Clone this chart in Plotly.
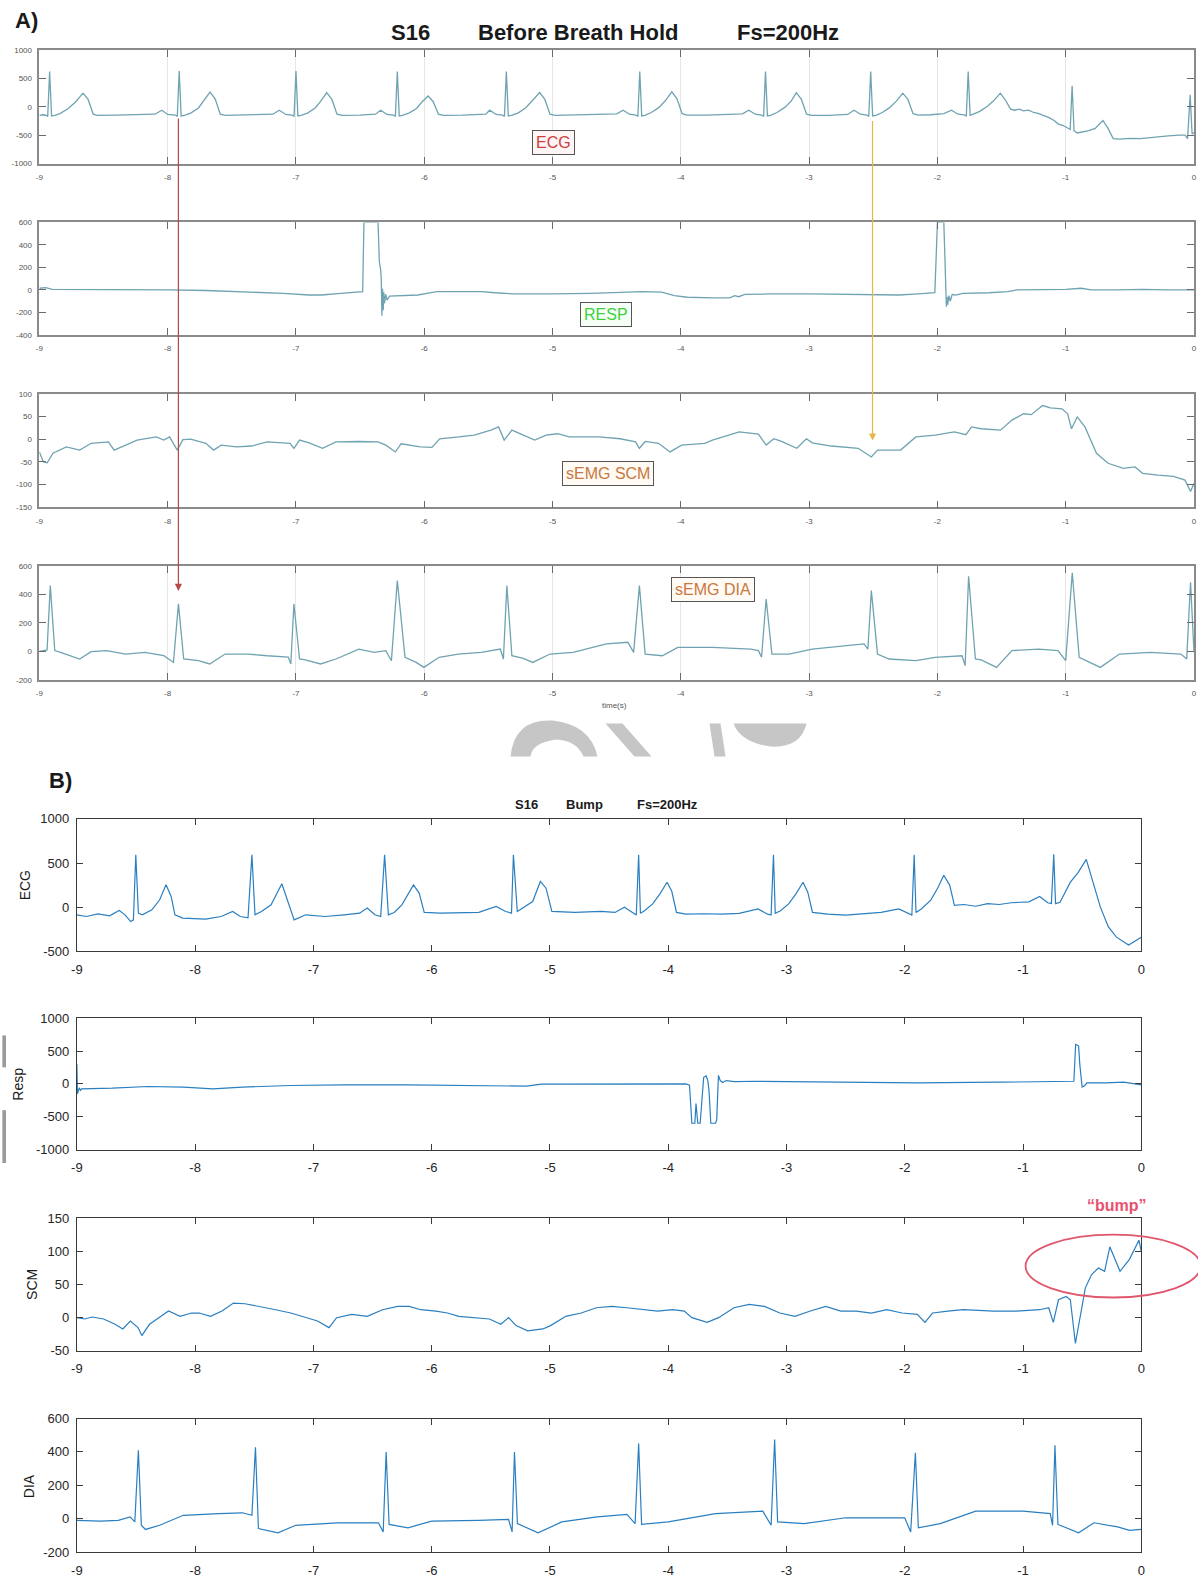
import plotly.graph_objects as go

W, H = 1198, 1578
FONT = "Liberation Sans, Arial, sans-serif"

# ---------------- data ----------------
x_ticks = [-9, -8, -7, -6, -5, -4, -3, -2, -1, 0]
x_tick_text = ["-9", "-8", "-7", "-6", "-5", "-4", "-3", "-2", "-1", "0"]

# Panel A — ECG
ecgA_t = [-9.00, -8.97, -8.945, -8.935, -8.92, -8.905, -8.88, -8.84, -8.78, -8.72, -8.66, -8.62, -8.58, -8.55, -8.40, -8.20, -8.10, -8.045, -8.00,
          -7.94, -7.925, -7.91, -7.895, -7.87, -7.82, -7.76, -7.72, -7.67, -7.63, -7.59, -7.55, -7.40, -7.25, -7.18, -7.13, -7.08,
          -7.03, -7.015, -7.00, -6.985, -6.96, -6.91, -6.85, -6.81, -6.76, -6.72, -6.68, -6.64, -6.50, -6.40, -6.38, -6.34, -6.29,
          -6.24, -6.225, -6.21, -6.195, -6.17, -6.12, -6.06, -6.02, -5.97, -5.93, -5.89, -5.85, -5.70, -5.55, -5.52, -5.49, -5.44,
          -5.39, -5.375, -5.36, -5.345, -5.32, -5.27, -5.21, -5.16, -5.10, -5.06, -5.02, -4.98, -4.80, -4.60, -4.50, -4.45, -4.40,
          -4.35, -4.335, -4.32, -4.305, -4.28, -4.23, -4.17, -4.12, -4.07, -4.03, -3.99, -3.95, -3.80, -3.60, -3.52, -3.47, -3.42,
          -3.37, -3.355, -3.34, -3.325, -3.30, -3.25, -3.19, -3.14, -3.10, -3.06, -3.02, -2.98, -2.85, -2.70, -2.65, -2.60,
          -2.55, -2.535, -2.52, -2.505, -2.48, -2.43, -2.37, -2.32, -2.27, -2.23, -2.19, -2.15, -2.05, -1.95, -1.89, -1.84,
          -1.79, -1.775, -1.76, -1.745, -1.72, -1.67, -1.61, -1.56, -1.51, -1.47, -1.43, -1.40, -1.36, -1.33, -1.29, -1.25, -1.21,
          -1.17, -1.13, -1.09, -1.06, -1.02, -0.985, -0.965, -0.95, -0.935, -0.91, -0.87, -0.82, -0.77, -0.71, -0.67, -0.63, -0.58,
          -0.50, -0.42, -0.35, -0.27, -0.20, -0.12, -0.07, -0.05, -0.03, -0.015, 0.0]
ecgA_v = [-150, -140, -150, -170, 620, -160, -150, -120, -40, 80, 240, 130, -130, -150, -145, -140, -130, -60, -135,
          -145, -170, 630, -160, -150, -110, -20, 100, 260, 140, -130, -150, -145, -140, -130, -60, -135,
          -145, -170, 630, -160, -150, -110, -20, 90, 250, 130, -130, -150, -145, -140, -130, -60, -135,
          -145, -170, 620, -160, -150, -110, -30, 80, 190, 90, -130, -150, -145, -140, -130, -60, -135,
          -145, -170, 620, -160, -150, -110, -20, 100, 250, 130, -130, -150, -145, -140, -125, -60, -130,
          -145, -170, 620, -160, -150, -100, -10, 110, 265, 140, -120, -145, -145, -140, -125, -60, -130,
          -145, -170, 620, -160, -150, -100, -10, 100, 250, 130, -130, -150, -150, -135, -60, -130,
          -145, -170, 620, -160, -150, -100, -10, 100, 240, 130, -120, -145, -140, -120, -60, -130,
          -140, -165, 620, -150, -130, -80, 10, 110, 240, 120, -40, -60, -40, -70, -60, -100, -120,
          -150, -190, -240, -300, -330, -380, -400, 370, -420, -460, -440, -420, -380, -240, -380, -560, -570,
          -555, -560, -540, -530, -510, -500, -500, -560, 210, -480, -450]

# Panel A — RESP
respA_t = [-9.0, -8.95, -8.9, -8.7, -8.5, -8.2, -8.0, -7.7, -7.4, -7.1, -6.9, -6.8, -6.65, -6.50, -6.48, -6.47, -6.36, -6.35, -6.34,
           -6.335, -6.33, -6.325, -6.32, -6.315, -6.31, -6.30, -6.29, -6.27, -6.20, -6.05, -5.98, -5.90, -5.70, -5.55, -5.45,
           -5.30, -5.0, -4.7, -4.3, -4.15, -4.05, -3.95, -3.75, -3.62, -3.58, -3.55, -3.50, -3.30, -3.0, -2.7, -2.5, -2.3, -2.15,
           -2.02, -2.0, -1.95, -1.93, -1.925, -1.92, -1.91, -1.90, -1.885, -1.86, -1.80, -1.6, -1.45, -1.38, -1.2, -1.0, -0.88,
           -0.80, -0.6, -0.4, -0.2, 0.0]
respA_v = [15, 20, 5, 5, 0, 5, 0, -5, -15, -30, -45, -45, -30, -20, -15, 600, 600, 250, 180,
           100, -230, 10, -180, -20, -120, -40, -90, -55, -50, -45, -30, -15, -15, -15, -25,
           -35, -35, -30, -15, -20, -50, -65, -70, -70, -50, -60, -40, -35, -35, -40, -40, -45, -35,
           -25, 600, 600, -150, -60, -130, -50, -100, -40, -45, -30, -25, -15, 0, 0, 5, 15,
           0, 0, 5, 0, 0]

# Panel A — sEMG SCM
scmA_t = [-9.0, -8.969, -8.939, -8.894, -8.79, -8.686, -8.596, -8.462, -8.417, -8.238, -8.089, -8.03, -7.985, -7.925, -7.881,
          -7.821, -7.702, -7.642, -7.583, -7.463, -7.344, -7.225, -7.046, -7.016, -6.972, -6.897, -6.793, -6.688, -6.51, -6.36,
          -6.30, -6.225, -6.18, -6.03, -5.94, -5.88, -5.73, -5.61, -5.526, -5.48, -5.42, -5.377, -5.317, -5.228, -5.139, -5.05,
          -4.96, -4.87, -4.64, -4.473, -4.353, -4.323, -4.278, -4.174, -4.084, -3.994, -3.814, -3.754, -3.665, -3.545, -3.395,
          -3.335, -3.275, -3.216, -3.096, -3.021, -2.976, -2.826, -2.617, -2.515, -2.467, -2.287, -2.168, -2.018, -1.868, -1.778,
          -1.734, -1.659, -1.509, -1.419, -1.329, -1.269, -1.18, -1.12, -1.03, -0.985, -0.955, -0.91, -0.85, -0.76, -0.67, -0.55,
          -0.46, -0.40, -0.28, -0.16, -0.07, -0.027, 0.0]
scmA_v = [-28, -50, -52, -31, -17, -24, -9, -6, -24, -2, 5, -2, 5, -24, -1,
          0, -9, -24, -13, -17, -15, -6, -9, -20, -2, -8, -20, -6, -5, -6,
          -13, -28, -10, -17, -18, 1, 5, 9, 16, 20, 27, -2, 20, 9, -2, 9,
          12, 5, 5, 1, -6, -20, -5, -9, -28, -13, -9, -2, 5, 16, 11,
          -13, 1, -5, -20, 1, -8, -15, -20, -39, -24, -24, 5, 9, 16, 10,
          27, 23, 20, 42, 56, 54, 74, 69, 67, 56, 23, 49, 27, -31, -53, -64,
          -61, -75, -79, -82, -90, -115, -97]

# Panel A — sEMG DIA
diaA_t = [-9.0, -8.94, -8.915, -8.88, -8.835, -8.686, -8.596, -8.477, -8.327, -8.178, -8.03, -7.955, -7.916, -7.875, -7.76,
          -7.672, -7.553, -7.374, -7.225, -7.06, -7.04, -7.016, -6.972, -6.927, -6.808, -6.688, -6.51, -6.39, -6.30, -6.256,
          -6.21, -6.15, -6.063, -6.003, -5.884, -5.735, -5.556, -5.407, -5.383, -5.356, -5.317, -5.228, -5.154, -5.02, -4.84,
          -4.69, -4.58, -4.413, -4.368, -4.323, -4.278, -4.144, -4.024, -3.754, -3.455, -3.395, -3.371, -3.335, -3.29, -3.156,
          -2.976, -2.707, -2.572, -2.542, -2.515, -2.467, -2.377, -2.168, -2.018, -1.808, -1.784, -1.757, -1.704, -1.659, -1.539,
          -1.419, -1.21, -1.06, -1.0, -0.949, -0.895, -0.73, -0.581, -0.341, -0.102, -0.057, -0.027, 0.0]
diaA_v = [0, 10, 463, 5, -7, -54, -2, 5, -19, -7, -31, -78, 334, -54, -66,
          -89, -19, -19, -31, -40, -89, 334, -54, -60, -89, -54, 16, -7, 5, -66,
          499, -42, -78, -113, -42, -19, -7, 16, -54, 463, -31, -49, -78, -19, -7,
          28, 52, 64, -7, 463, -19, -31, 28, 28, 16, 5, -42, 369, -19, -19,
          16, 40, 52, 16, 428, -19, -54, -66, -42, -31, -101, 529, -54, -60, -113,
          5, 16, 5, -66, 553, -42, -113, -19, -7, -19, -54, 487, -7]

# Panel B — ECG
ecgB_t = [-9.0, -8.919, -8.821, -8.724, -8.642, -8.593, -8.545, -8.522, -8.502, -8.48, -8.447, -8.366, -8.30, -8.246, -8.203,
          -8.171, -8.106, -7.911, -7.78, -7.683, -7.618, -7.553, -7.52, -7.494, -7.439, -7.358, -7.267, -7.211, -7.163, -7.065,
          -6.902, -6.74, -6.61, -6.545, -6.48, -6.431, -6.398, -6.366, -6.317, -6.252, -6.154, -6.106, -6.063, -5.927, -5.764,
          -5.602, -5.455, -5.374, -5.325, -5.309, -5.276, -5.211, -5.146, -5.081, -5.033, -4.984, -4.789, -4.567,
          -4.45, -4.37, -4.30, -4.27, -4.25, -4.235, -4.20, -4.13, -4.07, -4.01, -3.97, -3.93, -3.85, -3.70, -3.55, -3.40,
          -3.24, -3.16, -3.13, -3.11, -3.095, -3.05, -2.98, -2.92, -2.86, -2.82, -2.78, -2.65, -2.50, -2.35, -2.20, -2.05,
          -1.97, -1.94, -1.92, -1.905, -1.86, -1.78, -1.72, -1.67, -1.62, -1.58, -1.50, -1.40, -1.30, -1.20, -1.10, -0.95,
          -0.86, -0.79, -0.76, -0.74, -0.725, -0.687, -0.601, -0.533, -0.465, -0.405, -0.346, -0.278, -0.21, -0.107, -0.039, 0.0]
ecgB_v = [-87, -106, -76, -98, -38, -87, -163, -144, 594, -68, -87, -30, 83, 253, 121,
          -87, -125, -136, -106, -49, -106, -120, 594, -87, -49, 26, 265, 45, -144, -87,
          -106, -87, -68, -11, -87, -106, 594, -87, -60, 26, 253, 159, -60, -68, -68,
          -60, 8, -49, -68, 594, -49, 8, 64, 291, 215, -49, -60, -49,
          -60, 0, -70, -90, 594, -70, -40, 40, 150, 282, 180, -60, -80, -75, -80, -70,
          -20, -80, -90, 594, -70, -40, 40, 150, 282, 170, -60, -80, -90, -75, -60, -20,
          -70, -90, 594, -60, -20, 80, 220, 361, 250, 20, 30, 10, 40, 30, 50, 60,
          120, 50, 40, 598, 40, 55, 280, 395, 541, 282, 0, -225, -340, -430, -370, -340]

# Panel B — Resp
respB_t = [-9.0, -8.995, -8.98, -8.97, -8.96, -8.7, -8.4, -8.1, -7.85, -7.6, -7.2, -6.75, -6.2, -5.6, -5.2, -5.07, -4.5, -3.85,
           -3.82, -3.80, -3.775, -3.765, -3.75, -3.73, -3.70, -3.68, -3.665, -3.655, -3.64, -3.60, -3.59, -3.575, -3.56, -3.54,
           -3.51, -3.44, -3.25, -2.5, -1.89, -1.2, -0.62, -0.57, -0.555, -0.53, -0.52, -0.50, -0.48, -0.46, -0.3, -0.15, 0.0]
respB_v = [300, -150, -60, -100, -76, -66, -40, -50, -76, -50, -25, -15, -15, -30, -35, -5, 0, 0,
           -20, -600, -600, -300, -600, -600, 100, 120, 50, -100, -600, -600, -550, 130, 50, 20,
           50, 35, 40, 30, 15, 25, 35, 40, 600, 580, 300, -50, -30, 15, 15, 25, -15]

# Panel B — SCM
scmB_t = [-9.0, -8.935, -8.871, -8.774, -8.677, -8.612, -8.548, -8.483, -8.451, -8.386, -8.289, -8.225, -8.128, -8.031, -7.966,
          -7.87, -7.773, -7.676, -7.579, -7.45, -7.32, -7.191, -7.062, -6.965, -6.868, -6.804, -6.674, -6.545, -6.416, -6.287,
          -6.19, -6.093, -5.964, -5.867, -5.77, -5.641, -5.512, -5.415, -5.35, -5.286, -5.189, -5.06, -4.995, -4.866, -4.736,
          -4.607, -4.478, -4.349, -4.22, -4.09, -3.961, -3.864, -3.80, -3.671, -3.574, -3.444, -3.315, -3.186, -3.057, -2.928,
          -2.798, -2.669, -2.54, -2.411, -2.282, -2.152, -2.023, -1.894, -1.829, -1.765, -1.636, -1.506, -1.248, -1.054, -0.86,
          -0.783, -0.744, -0.70, -0.635, -0.60, -0.557, -0.51, -0.473, -0.42, -0.363, -0.31, -0.266, -0.18, -0.10, -0.02, 0.0]
scmB_v = [0, -2, 1, -2, -10, -17, -5, -15, -27, -10, 2, 10, 2, 7, 7,
          2, 10, 22, 21, 17, 12, 7, 0, -5, -15, 0, 5, 2, 12, 17,
          17, 12, 10, 7, 2, 0, -2, -10, 0, -12, -20, -17, -12, 2, 7,
          15, 17, 15, 12, 10, 12, 10, 0, -7, 0, 15, 20, 17, 7, 2,
          10, 17, 10, 10, 7, 12, 7, 5, -7, 7, 10, 12, 10, 10, 12,
          15, -7, 27, 32, 27, -39, 5, 45, 65, 75, 70, 107, 70, 88, 117, 100]

# Panel B — DIA
diaB_t = [-9.0, -8.8, -8.65, -8.55, -8.51, -8.48, -8.455, -8.42, -8.30, -8.10, -7.80, -7.60, -7.52, -7.49, -7.465, -7.40, -7.30,
          -7.15, -6.80, -6.45, -6.41, -6.385, -6.36, -6.20, -6.00, -5.60, -5.35, -5.32, -5.30, -5.275, -5.10, -4.90, -4.60,
          -4.35, -4.28, -4.25, -4.225, -4.0, -3.60, -3.20, -3.13, -3.10, -3.075, -2.85, -2.50, -2.00, -1.95, -1.91, -1.885,
          -1.70, -1.40, -1.00, -0.77, -0.75, -0.73, -0.705, -0.53, -0.40, -0.20, -0.10, 0.0]
diaB_v = [-10, -15, -10, 10, -20, 410, -40, -65, -40, 20, 30, 35, 20, 428, -60, -70, -85,
          -40, -25, -25, -80, 400, -35, -55, -15, -10, -5, -80, 400, -30, -85, -20, 10,
          25, -30, 450, -35, -20, 30, 45, -40, 475, -20, -30, 5, 5, -80, 395, -55,
          -30, 45, 45, 30, -40, 440, -35, -85, -25, -50, -70, -65]

panels = [
    # group, t, v, y range, y ticks, (left, right, top, bottom) in px, grid
    ("A", ecgA_t, ecgA_v, [-1000, 1000], [-1000, -500, 0, 500, 1000], (39, 1194, 51, 165), True),
    ("A", respA_t, respA_v, [-400, 600], [-400, -200, 0, 200, 400, 600], (39, 1194, 224, 337), False),
    ("A", scmA_t, scmA_v, [-150, 100], [-150, -100, -50, 0, 50, 100], (39, 1194, 396, 510), False),
    ("A", diaA_t, diaA_v, [-200, 600], [-200, 0, 200, 400, 600], (39, 1194, 569, 683), True),
    ("B", ecgB_t, ecgB_v, [-500, 1000], [-500, 0, 500, 1000], (76.5, 1140.7, 822.7, 955.5), False),
    ("B", respB_t, respB_v, [-1000, 1000], [-1000, -500, 0, 500, 1000], (76.5, 1140.7, 1022.7, 1154.5), False),
    ("B", scmB_t, scmB_v, [-50, 150], [-50, 0, 50, 100, 150], (76.5, 1140.7, 1223.5, 1356.5), False),
    ("B", diaB_t, diaB_v, [-200, 600], [-200, 0, 200, 400, 600], (76.5, 1140.7, 1424.5, 1558.4), False),
]

# the photographed page comes out slightly shrunk about its centre; place items so they land on target
KX, CX = 0.99147, 5.63
KY, CY = 0.99104, 6.86


def px(x):
    return ((x - CX) / KX) / W


def py(y):
    y = 1.004 * y - 1.0
    return 1 - ((y - CY) / KY) / H


def clamp(v):
    return min(1.0, max(0.0, v))


fig = go.Figure()
layout = dict(width=W, height=H, margin=dict(l=0, r=0, t=0, b=0),
              paper_bgcolor="white", plot_bgcolor="white", showlegend=False,
              font=dict(family=FONT))

for i, (grp, t, v, yr, yt, box, grid) in enumerate(panels, start=1):
    l, r, tp, bt = box
    xa = "xaxis" if i == 1 else f"xaxis{i}"
    ya = "yaxis" if i == 1 else f"yaxis{i}"
    if grp == "A":
        col, lw = "#6fa3b1", 1.3
        axc, axw, tfs, tkc, tlen, tfc = "#8a8a8a", 1.5, 8, "#6a6a6a", 7, "#555555"
        xstand, ystand = 5, 4
    else:
        col, lw = "#2a7fc0", 1.2
        axc, axw, tfs, tkc, tlen, tfc = "#3a3a3a", 1, 13, "#3a3a3a", 6, "#262626"
        xstand, ystand = 6, 4
    fig.add_trace(go.Scatter(x=t, y=v, mode="lines", line=dict(color=col, width=lw),
                             xaxis=f"x{i}" if i > 1 else "x", yaxis=f"y{i}" if i > 1 else "y",
                             hoverinfo="skip"))
    layout[xa] = dict(domain=[clamp(px(l)), clamp(px(r))], anchor=f"y{i}" if i > 1 else "y", range=[-9, 0],
                      tickmode="array", tickvals=x_ticks, ticktext=x_tick_text,
                      ticks="inside", ticklen=tlen, tickcolor=tkc, tickwidth=1,
                      showline=True, linecolor=axc, linewidth=axw, mirror="ticks",
                      showgrid=grid, gridcolor="#e6e6e6", gridwidth=1, zeroline=False,
                      tickfont=dict(size=tfs, color=tfc, family=FONT), ticklabelstandoff=xstand,
                      fixedrange=True)
    layout[ya] = dict(domain=[clamp(py(bt)), clamp(py(tp))], anchor=f"x{i}" if i > 1 else "x", range=yr,
                      tickmode="array", tickvals=yt, ticktext=[str(k) for k in yt],
                      ticks="inside", ticklen=tlen, tickcolor=tkc, tickwidth=1,
                      showline=True, linecolor=axc, linewidth=axw, mirror="ticks",
                      showgrid=False, zeroline=False,
                      tickfont=dict(size=tfs, color=tfc, family=FONT), ticklabelstandoff=ystand,
                      fixedrange=True)

fig.update_layout(**layout)

ann = []


def text(x, y, s, size, color="#1a1a1a", bold=False, **kw):
    ann.append(dict(x=px(x), y=py(y), xref="paper", yref="paper", text=f"<b>{s}</b>" if bold else s,
                    showarrow=False, font=dict(size=size, color=color, family=FONT),
                    xanchor="center", yanchor="middle", **kw))


# Panel A texts
text(26, 21, "A)", 22, bold=True)
text(410, 33, "S16", 22, bold=True)
text(578, 33, "Before Breath Hold", 22, bold=True)
text(787, 33, "Fs=200Hz", 22, bold=True)
text(614, 709, "time(s)", 8, color="#555555")

# Panel B texts
text(60, 784, "B)", 22, bold=True)
text(526, 808, "S16", 13, bold=True)
text(584, 808, "Bump", 13, bold=True)
text(667, 808, "Fs=200Hz", 13, bold=True)
text(25, 889, "ECG", 14, textangle=-90)
text(18, 1089, "Resp", 14, textangle=-90)
text(31, 1290, "SCM", 14, textangle=-90)
text(28, 1492, "DIA", 14, textangle=-90)
text(1116, 1211, "\u201cbump\u201d", 16, color="#e8506e", bold=True)

# labelled boxes in panel A
for (x, y, s, c, bg) in [(553, 144, "ECG", "#cc4040", "#fff5f5"),
                         (606, 316, "RESP", "#3fcf3f", "#f6fff6"),
                         (608, 476, "sEMG SCM", "#c87840", "#fffaf4"),
                         (712, 592, "sEMG DIA", "#c87840", "#fffaf4")]:
    ann.append(dict(x=px(x), y=py(y), xref="paper", yref="paper", text=s, showarrow=False,
                    font=dict(size=16, color=c, family=FONT), bgcolor=bg,
                    bordercolor="#555555", borderwidth=1, borderpad=3,
                    xanchor="center", yanchor="middle"))

# arrows (tail offset in pixels relative to the head)
ann.append(dict(x=px(178), y=py(594), xref="paper", yref="paper", ax=0, ay=(126 - 594) * 1.004 / KY,
                axref="pixel", ayref="pixel", text="", showarrow=True, arrowhead=2,
                arrowsize=1.2, arrowwidth=1.2, arrowcolor="#b84848"))
ann.append(dict(x=px(872), y=py(443), xref="paper", yref="paper", ax=0, ay=(126 - 443) * 1.004 / KY,
                axref="pixel", ayref="pixel", text="", showarrow=True, arrowhead=2,
                arrowsize=1.2, arrowwidth=1.2, arrowcolor="#e4b848"))

fig.update_layout(annotations=ann)


def path(cmds):
    out = []
    for c in cmds:
        if isinstance(c, str):
            out.append(c)
        else:
            out.append(f"{px(c[0]):.5f},{py(c[1]):.5f}")
    return " ".join(out)


shapes = []
# "bump" ellipse
shapes.append(dict(type="circle", xref="paper", yref="paper", x0=px(1025), x1=px(1200),
                   y0=py(1303), y1=py(1240), line=dict(color="#e0566c", width=1.8)))
# faint watermark fragments between the panels
wm = "#c6c6c6"
shapes.append(dict(type="path", xref="paper", yref="paper", fillcolor=wm, line=dict(width=0),
                   path=path(["M", (510, 760), "Q", (514, 722), (552, 724), "Q", (590, 728), (597, 760),
                              "L", (583, 760), "Q", (576, 744), (556, 743), "Q", (532, 746), (530, 760), "Z"])))
shapes.append(dict(type="path", xref="paper", yref="paper", fillcolor=wm, line=dict(width=0),
                   path=path(["M", (605, 727), "L", (622, 727), "L", (651, 760), "L", (634, 760), "Z"])))
shapes.append(dict(type="path", xref="paper", yref="paper", fillcolor=wm, line=dict(width=0),
                   path=path(["M", (709, 727), "L", (720, 727), "L", (725, 760), "L", (714, 760), "Z"])))
shapes.append(dict(type="path", xref="paper", yref="paper", fillcolor=wm, line=dict(width=0),
                   path=path(["M", (733, 727), "L", (806, 727), "Q", (800, 752), (770, 750),
                              "Q", (740, 746), (733, 727), "Z"])))
shapes.append(dict(type="rect", xref="paper", yref="paper", x0=0, x1=px(2), y0=py(1072), y1=py(1040),
                   fillcolor="#9a9a9a", line=dict(width=0)))
shapes.append(dict(type="rect", xref="paper", yref="paper", x0=0, x1=px(2), y0=py(1168), y1=py(1115),
                   fillcolor="#9a9a9a", line=dict(width=0)))
fig.update_layout(shapes=shapes)

fig.write_html(
    "out.html",
    config={"displayModeBar": False},
    post_script="document.body.style.margin='0';document.body.style.padding='0';"
                "document.documentElement.style.overflow='hidden';",
)
